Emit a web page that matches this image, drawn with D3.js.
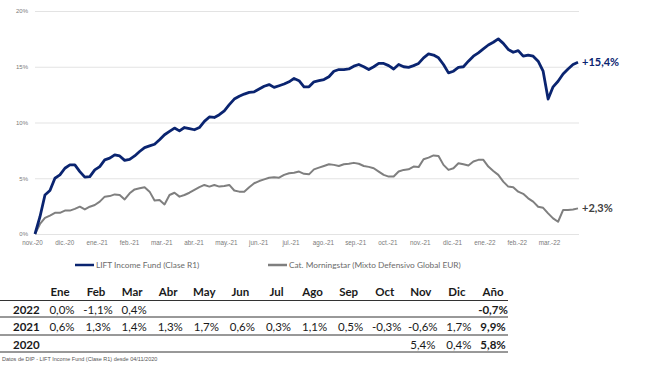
<!DOCTYPE html>
<html>
<head>
<meta charset="utf-8">
<script src="https://cdn.jsdelivr.net/npm/d3@7"></script>
<style>
  body { margin: 0; background: #fff; }
  svg { display: block; font-family: Lato, "Liberation Sans", sans-serif; }
</style>
</head>
<body>
<div id="chart"></div>
<script>
/* DATA */
// monthly axis labels
const monthLabels = ["nov.-20", "dic.-20", "ene.-21", "feb.-21", "mar.-21", "abr.-21", "may.-21", "jun.-21",
  "jul.-21", "ago.-21", "sep.-21", "oct.-21", "nov.-21", "dic.-21", "ene.-22", "feb.-22", "mar.-22"];
const yTicks = [0, 5, 10, 15, 20];

// cumulative return (%), sampled evenly from 04/11/2020 to end of march 2022
const liftValues = [0.0, 1.55, 3.5, 3.9, 5.0, 5.3, 5.9, 6.2, 6.2, 5.6, 5.1, 5.15, 5.75, 6.05, 6.65, 6.8, 7.1, 7.0, 6.6, 6.7,
  7.0, 7.4, 7.75, 7.9, 8.05, 8.45, 8.9, 9.2, 9.5, 9.25, 9.55, 9.45, 9.35, 9.55, 10.1, 10.5, 10.45, 10.7, 11.05, 11.6,
  12.1, 12.35, 12.55, 12.7, 12.75, 13.0, 13.25, 13.4, 13.15, 13.3, 13.45, 13.65, 13.95, 13.75, 13.2, 13.2, 13.65, 13.75, 13.85, 14.1,
  14.6, 14.75, 14.75, 14.8, 15.05, 15.2, 15.0, 14.75, 15.0, 15.3, 15.3, 15.1, 14.8, 15.2, 15.0, 14.95, 15.1, 15.3, 15.8, 16.15,
  16.05, 15.8, 15.2, 14.45, 14.6, 14.95, 15.0, 15.5, 15.95, 16.25, 16.6, 16.95, 17.2, 17.5, 17.1, 16.55, 16.3, 16.45, 15.95, 16.05,
  15.95, 15.5, 14.6, 12.1, 13.2, 13.7, 14.35, 14.8, 15.2, 15.4];
const catValues = [0.0, 0.9, 1.45, 1.65, 1.9, 1.9, 2.1, 2.1, 2.25, 2.45, 2.2, 2.45, 2.6, 2.9, 3.35, 3.4, 3.55, 3.5, 3.1, 3.65,
  4.0, 4.1, 4.2, 3.8, 3.0, 3.05, 2.65, 3.5, 3.7, 3.35, 3.5, 3.7, 3.95, 4.2, 4.4, 4.25, 4.4, 4.25, 4.3, 4.4,
  3.9, 3.8, 3.8, 4.2, 4.55, 4.75, 4.9, 5.05, 5.1, 5.05, 5.3, 5.45, 5.5, 5.6, 5.4, 5.35, 5.8, 5.95, 6.1, 6.25,
  6.2, 6.1, 6.25, 6.3, 6.38, 6.3, 6.1, 6.02, 5.9, 5.6, 5.3, 5.15, 5.15, 5.6, 5.75, 5.8, 6.05, 6.0, 6.7, 6.85,
  7.05, 7.0, 6.2, 5.75, 5.9, 6.35, 6.25, 6.15, 6.5, 6.65, 6.65, 6.05, 5.65, 5.3, 4.7, 4.25, 4.2, 3.8, 3.6, 3.2,
  2.9, 2.45, 2.35, 1.85, 1.4, 1.1, 2.15, 2.15, 2.2, 2.3];

const seriesNames = ["LIFT Income Fund (Clase R1)", "Cat. Morningstar (Mixto Defensivo Global EUR)"];

// monthly returns table
const tableHeads = ["Ene", "Feb", "Mar", "Abr", "May", "Jun", "Jul", "Ago", "Sep", "Oct", "Nov", "Dic", "Año"];
const rowYears = ["2022", "2021", "2020"];
const returns2022 = [0.0, -1.1, 0.4, null, null, null, null, null, null, null, null, null];
const returns2021 = [0.6, 1.3, 1.4, 1.3, 1.7, 0.6, 0.3, 1.1, 0.5, -0.3, -0.6, 1.7];
const returns2020 = [null, null, null, null, null, null, null, null, null, null, 5.4, 0.4];
const yearTotals = [-0.7, 9.9, 5.8];
const footnote = "Datos de DIP - LIFT Income Fund (Clase R1) desde 04/11/2020";

/* CONSTANTS */
const width = 650, height = 372;
const blue = "#0a2470", grey = "#7f7f7f";
// comma decimals, plain hyphen for negatives
const fmt = v => d3.format(".1f")(v).replace(".", ",").replace("\u2212", "-") + "%";

const svg = d3.select("#chart").append("svg")
  .attr("width", width)
  .attr("height", height);

// SCALES
const xMonth = d3.scalePoint().domain(monthLabels).range([32, 549]);
// data sampled evenly between first day and last day shown
const x = d3.scaleLinear().domain([0, liftValues.length - 1]).range([35, 578]);
const y = d3.scaleLinear().domain([0, 20]).range([234, 11]);

// GRID + Y LABELS
const yAxis = svg.append("g")
  .attr("transform", "translate(35,0)")
  .call(d3.axisLeft(y).tickValues(yTicks).tickSize(-544).tickPadding(7).tickFormat(d => d + "%"));
yAxis.select(".domain").remove();
yAxis.selectAll(".tick line").attr("stroke", "#e3e3e3").attr("stroke-width", 1);
yAxis.selectAll(".tick text").attr("fill", "#7a7a7a").attr("font-size", 6).attr("font-family", "Liberation Sans, sans-serif");

// X LABELS
const xAxis = svg.append("g")
  .attr("transform", "translate(0,234)")
  .call(d3.axisBottom(xMonth).tickSize(0).tickPadding(7));
xAxis.select(".domain").remove();
xAxis.selectAll(".tick text").attr("fill", "#7a7a7a").attr("font-size", 6.3).attr("font-family", "Liberation Sans, sans-serif");

// LINES
const line = d3.line().x((d, i) => x(i)).y(d => y(d));

svg.append("path")
  .datum(catValues)
  .attr("fill", "none")
  .attr("stroke", grey)
  .attr("stroke-width", 2)
  .attr("stroke-linejoin", "round")
  .attr("d", line);

svg.append("path")
  .datum(liftValues)
  .attr("fill", "none")
  .attr("stroke", blue)
  .attr("stroke-width", 2.8)
  .attr("stroke-linejoin", "round")
  .attr("d", line);

// end labels
const last = liftValues.length - 1;
svg.append("text")
  .attr("x", x(last) + 4).attr("y", y(liftValues[last]) + 4)
  .attr("fill", blue).attr("font-size", 11).attr("font-weight", "bold")
  .text("+" + fmt(liftValues[last]));
svg.append("text")
  .attr("x", x(last) + 4).attr("y", y(catValues[last]) + 4)
  .attr("fill", "#404040").attr("font-size", 11).attr("font-weight", "bold")
  .text("+" + fmt(catValues[last]));

// LEGEND
const legend = svg.append("g").selectAll("g")
  .data(seriesNames)
  .join("g")
  .attr("transform", (d, i) => `translate(${i === 0 ? 75 : 268},265)`);
legend.append("line")
  .attr("x1", 0).attr("x2", 19)
  .attr("stroke", (d, i) => i === 0 ? blue : grey)
  .attr("stroke-width", 2.5);
legend.append("text")
  .attr("x", 21).attr("y", 3)
  .attr("fill", "#6b6b6b").attr("font-size", 8.3)
  .text(d => d);

// TABLE
const colX = d3.scalePoint().domain(tableHeads).range([60, 493]);
const rowY = d3.scalePoint().domain(["head"].concat(rowYears)).range([296, 349]);
const table = svg.append("g").attr("font-size", 11.5).attr("fill", "#1a1a1a");

table.selectAll(".head")
  .data(tableHeads)
  .join("text")
  .attr("class", "head")
  .attr("x", d => colX(d)).attr("y", rowY("head"))
  .attr("text-anchor", "middle").attr("font-weight", "bold")
  .text(d => d);

const rowData = [returns2022, returns2021, returns2020];
rowYears.forEach((yr, r) => {
  table.append("text")
    .attr("x", 13).attr("y", rowY(yr))
    .attr("font-weight", "bold")
    .text(yr);
  table.selectAll(".r" + yr)
    .data(rowData[r])
    .join("text")
    .attr("class", "r" + yr)
    .attr("x", (d, i) => colX(tableHeads[i]) + 2).attr("y", rowY(yr))
    .attr("text-anchor", "middle")
    .text(d => d == null ? "" : fmt(d));
  table.append("text")
    .attr("x", colX("Año")).attr("y", rowY(yr))
    .attr("text-anchor", "middle").attr("font-weight", "bold")
    .text(fmt(yearTotals[r]));
});

// row rules
const ruleY = [300.5, 317, 335, 352];
svg.append("g").selectAll("line")
  .data(ruleY)
  .join("line")
  .attr("x1", 0).attr("x2", 508)
  .attr("y1", d => d).attr("y2", d => d)
  .attr("stroke", "#333").attr("stroke-width", 1);

svg.append("text")
  .attr("x", 2).attr("y", 361)
  .attr("font-size", 5.5).attr("fill", "#555")
  .attr("font-family", "Liberation Sans, sans-serif")
  .text(footnote);
</script>
</body>
</html>
